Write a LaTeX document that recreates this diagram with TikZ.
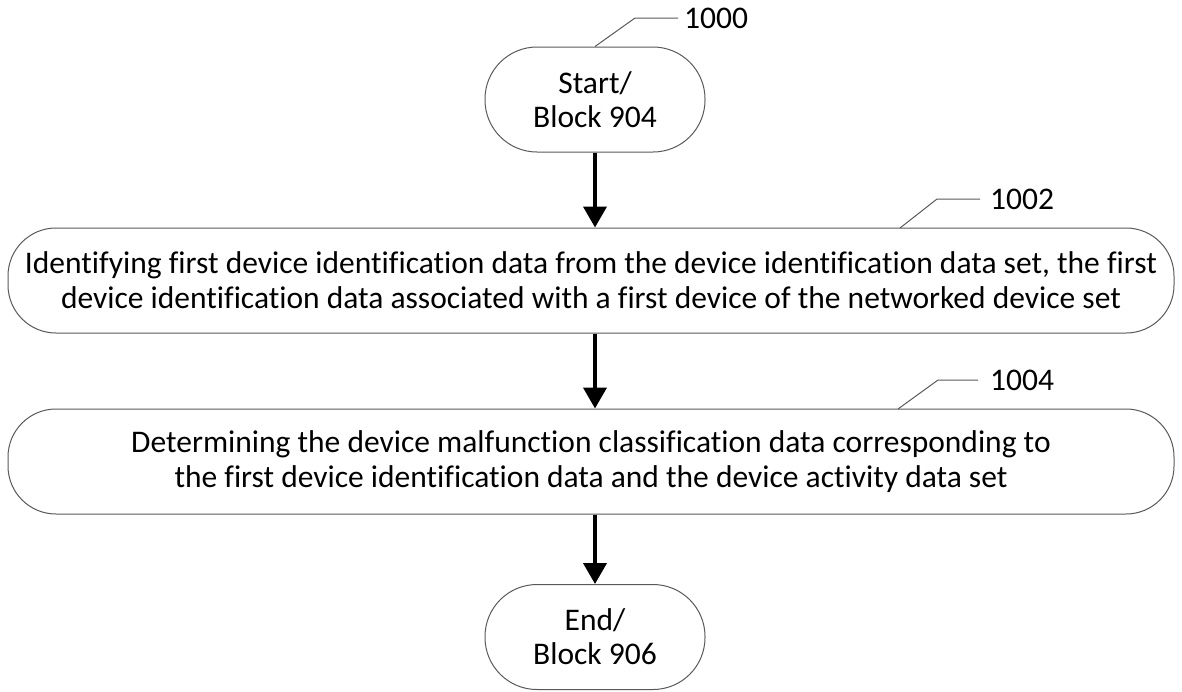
\documentclass[tikz,border=0pt]{standalone}
\usepackage{fontspec}
\setmainfont[Ligatures=NoCommon]{Carlito}
\usetikzlibrary{arrows.meta}
\begin{document}
\begin{tikzpicture}[x=1pt,y=-1pt,
  terminal/.style={draw=black!65,line width=1pt,rounded corners=52pt,
    minimum width=220pt,minimum height=105pt,align=center,
    font=\fontsize{31.5}{34}\selectfont,inner sep=0pt},
  procbox/.style={draw=black!65,line width=1pt,rounded corners=48pt,
    minimum width=1166pt,minimum height=105pt,align=center,
    font=\fontsize{31.5}{35}\selectfont,inner sep=0pt},
  flow/.style={line width=4pt,-{Triangle[width=23pt,length=21pt]}},
  leader/.style={draw=black!65,line width=1pt},
  reflabel/.style={anchor=west,font=\fontsize{31.5}{34}\selectfont,inner sep=0pt}]
\useasboundingbox (0,0) rectangle (1182,691);

% flow chart nodes
\node[terminal] (start) at (595,99.5) {Start/\\Block 904};
\node[procbox] (s1002) at (591,280.5) {Identifying first device identification data from the device identification data set, the first\\device identification data associated with a first device of the networked device set};
\node[procbox] (s1004) at (591,461.5) {Determining the device malfunction classification data corresponding to\\the first device identification data and the device activity data set};
\node[terminal] (end) at (595,637) {End/\\Block 906};

% connectors
\draw[flow] (start.south) -- (s1002.north -| start.south);
\draw[flow] (s1002.south -| start.south) -- (s1004.north -| start.south);
\draw[flow] (s1004.south -| start.south) -- (end.north);

% reference numerals with leader lines
\coordinate (k0) at (635,18);
\coordinate (k0e) at (678,18);
\node[reflabel] (r1000) at (684,18) {1000};
\draw[leader] (start.north) -- (k0) -- (k0e);

\coordinate (k1a) at (900,228);
\coordinate (k1) at (937,199);
\coordinate (k1e) at (980,199);
\node[reflabel] (r1002) at (990,199) {1002};
\draw[leader] (k1a) -- (k1) -- (k1e);

\coordinate (k2a) at (898,409);
\coordinate (k2) at (938,380);
\coordinate (k2e) at (978,380);
\node[reflabel] (r1004) at (990,380) {1004};
\draw[leader] (k2a) -- (k2) -- (k2e);
\end{tikzpicture}
\end{document}
